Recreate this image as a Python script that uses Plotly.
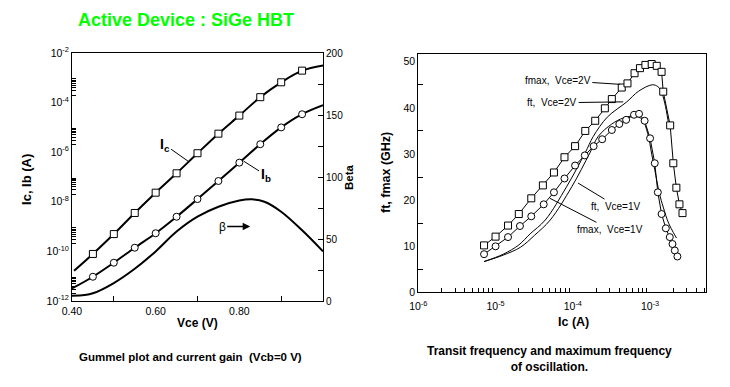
import numpy as np
import plotly.graph_objects as go

# ---------------- Left panel: Gummel plot ----------------
ic_vce = [0.405, 0.45, 0.50, 0.55, 0.60, 0.65, 0.70, 0.75, 0.80, 0.85, 0.90, 0.95, 1.00]
ic_val = [1.66e-11, 7.9e-11, 5.0e-10, 3.55e-9, 2.34e-8, 1.41e-7, 9.1e-7, 5.6e-6,
          3.0e-5, 1.66e-4, 6.6e-4, 1.95e-3, 3.16e-3]
ib_vce = [0.40, 0.45, 0.50, 0.55, 0.60, 0.65, 0.70, 0.75, 0.80, 0.85, 0.90, 0.95, 1.00]
ib_val = [3.2e-12, 9.5e-12, 3.5e-11, 1.41e-10, 5.4e-10, 2.5e-9, 1.29e-8, 6.9e-8,
          3.8e-7, 2.1e-6, 1.0e-5, 3.4e-5, 7.8e-5]
beta_vce = [0.40, 0.43, 0.45, 0.50, 0.55, 0.60, 0.65, 0.70, 0.75, 0.80, 0.83, 0.86, 0.90, 0.95, 1.00]
beta_val = [4.3, 4.8, 6.2, 14.5, 26, 40, 56, 68, 76, 81, 82, 80, 72, 57, 40]

# ---------------- Right panel: ft / fmax ----------------
fmax2_ic = [7.1e-6, 1.0e-5, 1.45e-5, 2.0e-5, 2.9e-5, 4.1e-5, 5.7e-5, 7.8e-5, 1.07e-4,
            1.45e-4, 1.95e-4, 2.6e-4, 3.2e-4, 4.3e-4, 5.1e-4, 6.3e-4, 7.4e-4, 8.7e-4,
            1.05e-3, 1.22e-3, 1.41e-3, 1.48e-3, 1.82e-3, 2.0e-3, 2.19e-3, 2.4e-3, 2.63e-3]
fmax2_f = [10.2, 12.1, 14.5, 17.0, 20.4, 23.2, 26.0, 29.3, 31.7, 35.0, 37.2, 39.9, 41.9,
           44.4, 45.3, 47.5, 48.6, 49.3, 49.5, 49.1, 47.8, 43.5, 36.2, 28.0, 22.7, 19.1, 17.2]
fmax1_ic = [7.1e-6, 1.0e-5, 1.45e-5, 2.07e-5, 2.9e-5, 4.2e-5, 5.7e-5, 7.8e-5, 1.07e-4,
            1.43e-4, 1.86e-4, 2.4e-4, 3.2e-4, 4.0e-4, 4.9e-4, 6.2e-4, 7.2e-4, 8.5e-4,
            1.0e-3, 1.15e-3, 1.26e-3, 1.41e-3, 1.6e-3, 1.8e-3, 1.95e-3, 2.09e-3, 2.26e-3]
fmax1_f = [8.3, 10.0, 12.0, 14.4, 16.5, 19.1, 21.7, 24.7, 27.5, 29.7, 31.7, 33.2, 35.2,
           36.5, 37.4, 38.5, 38.7, 37.2, 33.4, 28.0, 21.7, 17.0, 13.9, 12.0, 10.5, 9.1, 7.8]
ft2_ic = [7.1e-6, 1.26e-5, 2.0e-5, 2.8e-5, 4.4e-5, 8.3e-5, 1.44e-4, 1.84e-4, 2.8e-4,
          5.0e-4, 7.1e-4, 1.07e-3, 1.26e-3, 1.38e-3, 1.55e-3, 1.72e-3]
ft2_f = [6.7, 8.3, 10.3, 12.7, 15.7, 22.9, 30.2, 33.8, 38.0, 41.3, 43.6, 45.0, 44.6,
         43.8, 41.0, 37.0]
ft1_ic = [7.1e-6, 1.26e-5, 2.1e-5, 3.2e-5, 5.1e-5, 9.7e-5, 1.66e-4, 2.13e-4, 3.2e-4,
          4.5e-4, 6.3e-4, 7.9e-4, 9.3e-4, 1.05e-3, 1.15e-3, 1.32e-3, 1.48e-3, 1.74e-3,
          2.0e-3, 2.2e-3]
ft1_f = [6.7, 8.1, 9.8, 12.4, 15.7, 22.9, 30.2, 33.8, 36.5, 37.8, 38.2, 37.5, 34.5,
         30.0, 26.6, 21.5, 18.5, 15.0, 13.0, 11.8]

# tick labels
vce_ticks = [0.4, 0.6, 0.8]
vce_ticktext = ["0.40", "0.60", "0.80"]
vce_minor = [0.5, 0.7, 0.9]
gummel_exps = [-12, -10, -8, -6, -4, -2]
gummel_minor_decades = [-12, -10, -8, -6, -4]
ic_exps = [-6, -5, -4, -3]
f_minor = [5, 15, 25, 35, 45]

FONT = "Liberation Sans, Arial, sans-serif"
BLACK = "black"

fig = go.Figure()

# Left traces
fig.add_trace(go.Scatter(x=ic_vce, y=ic_val, mode="lines", line=dict(color=BLACK, width=2, shape="spline"),
                         xaxis="x", yaxis="y", hoverinfo="skip"))
fig.add_trace(go.Scatter(x=ic_vce[1:-1], y=ic_val[1:-1], mode="markers",
                         marker=dict(symbol="square", size=7, color="white", line=dict(color=BLACK, width=1)),
                         xaxis="x", yaxis="y"))
fig.add_trace(go.Scatter(x=ib_vce, y=ib_val, mode="lines", line=dict(color=BLACK, width=2, shape="spline"),
                         xaxis="x", yaxis="y", hoverinfo="skip"))
fig.add_trace(go.Scatter(x=ib_vce[1:-1], y=ib_val[1:-1], mode="markers",
                         marker=dict(symbol="circle", size=7, color="white", line=dict(color=BLACK, width=1)),
                         xaxis="x", yaxis="y"))
fig.add_trace(go.Scatter(x=beta_vce, y=beta_val, mode="lines", line=dict(color=BLACK, width=2, shape="spline"),
                         xaxis="x", yaxis="y2"))

# Right traces
fig.add_trace(go.Scatter(x=ft2_ic, y=ft2_f, mode="lines", line=dict(color=BLACK, width=1, shape="spline"),
                         xaxis="x2", yaxis="y3"))
fig.add_trace(go.Scatter(x=ft1_ic, y=ft1_f, mode="lines", line=dict(color=BLACK, width=1, shape="spline"),
                         xaxis="x2", yaxis="y3"))
fig.add_trace(go.Scatter(x=fmax2_ic, y=fmax2_f, mode="lines+markers", line=dict(color=BLACK, width=1),
                         marker=dict(symbol="square", size=7, color="white", line=dict(color=BLACK, width=1)),
                         xaxis="x2", yaxis="y3"))
fig.add_trace(go.Scatter(x=fmax1_ic, y=fmax1_f, mode="lines+markers", line=dict(color=BLACK, width=1),
                         marker=dict(symbol="circle", size=7, color="white", line=dict(color=BLACK, width=1)),
                         xaxis="x2", yaxis="y3"))

tickfont = dict(family=FONT, size=10.5, color=BLACK)
axis_common = dict(showline=True, linecolor=BLACK, linewidth=1, showgrid=False, zeroline=False,
                   tickfont=tickfont, automargin=False)

gummel_minor = [k * 10.0 ** d for d in gummel_minor_decades for k in range(2, 10)]
ic_minor = [k * 10.0 ** d for d in ic_exps for k in range(2, 10) if k * 10.0 ** d < 5.2e-3]

fig.update_layout(
    width=730, height=387, margin=dict(l=0, r=0, t=0, b=0, autoexpand=False),
    paper_bgcolor="white", plot_bgcolor="white", showlegend=False,
    font=dict(family=FONT, color=BLACK),
    xaxis=dict(domain=[0.0986, 0.4425], anchor="y", range=[0.4, 1.0], tickvals=vce_ticks,
               ticktext=vce_ticktext, ticks="", mirror=True,
               minor=dict(ticks="inside", tickvals=vce_minor, ticklen=5, tickcolor=BLACK), **axis_common),
    yaxis=dict(domain=[0.2222, 0.863], anchor="x", type="log", range=[-12, -2],
               tickvals=[10.0 ** e for e in gummel_exps],
               ticktext=[f"10<sup>{e}</sup>" for e in gummel_exps], ticks="",
               minor=dict(ticks="inside", tickvals=gummel_minor, ticklen=4, tickcolor=BLACK), **axis_common),
    yaxis2=dict(overlaying="y", anchor="x", side="right", range=[0, 200], dtick=50, ticks="inside",
                ticklen=5, tickcolor=BLACK,
                minor=dict(ticks="inside", dtick=25, ticklen=5, tickcolor=BLACK),
                **{**axis_common, "tickfont": dict(family=FONT, size=10, color=BLACK)}),
    xaxis2=dict(domain=[0.573, 0.9667], anchor="y3", type="log", range=[-6, -2.28],
                tickvals=[10.0 ** e for e in ic_exps], ticklabelstandoff=4,
                ticktext=[f"10<sup>{e}</sup>" for e in ic_exps], ticks="", mirror=True,
                minor=dict(ticks="inside", tickvals=ic_minor, ticklen=4, tickcolor=BLACK), **axis_common),
    yaxis3=dict(domain=[0.2442, 0.8597], anchor="x2", range=[0, 51.6], dtick=10, ticks="", mirror=True,
                minor=dict(ticks="inside", tickvals=f_minor, ticklen=5, tickcolor=BLACK), **axis_common),
)

ann = []
def txt(x, y, text, size, bold=False, angle=0, color=BLACK):
    ann.append(dict(x=x, y=y, xref="paper", yref="paper", text=f"<b>{text}</b>" if bold else text,
                    showarrow=False, textangle=angle, xanchor="center", yanchor="middle",
                    font=dict(family=FONT, size=size, color=color)))

txt(0.2548, 0.948, "Active Device : SiGe HBT", 18, bold=True, color="#00ff00")
txt(0.27, 0.1654, "Vce (V)", 12, bold=True)
txt(0.785, 0.1687, "Ic (A)", 12.5, bold=True)
txt(0.037, 0.535, "Ic, Ib (A)", 13, bold=True, angle=-90)
txt(0.478, 0.5426, "Beta", 11.5, bold=True, angle=-90)
txt(0.5288, 0.553, "ft, fmax (GHz)", 12.5, bold=True, angle=-90)
txt(0.2616, 0.0783, "Gummel plot and current gain  (Vcb=0 V)", 11.5, bold=True)
txt(0.7534, 0.0724, "Transit frequency and maximum frequency<br>of oscillation.", 12, bold=True)

def lead(x, y, ax, ay, text, xref, yref, size=10, head=0, width=1):
    ann.append(dict(x=x, y=y, xref=xref, yref=yref, ax=ax, ay=ay, text=text, showarrow=True,
                    arrowhead=head, arrowwidth=width, arrowcolor=BLACK, arrowsize=1,
                    font=dict(family=FONT, size=size, color=BLACK)))

lead(0.6786, np.log10(4.2e-7), -24, -17, "<b>I<sub>c</sub></b>", "x", "y", size=14)
lead(0.81, np.log10(4.4e-7), 22, 14, "<b>I<sub>b</sub></b>", "x", "y", size=14)
lead(0.826, 60, -28, 0, "β", "x", "y2", size=12, head=2, width=1.5)

lead(np.log10(4.06e-4), 45.1, -62, -4, "fmax,  Vce=2V", "x2", "y3")
lead(np.log10(4.49e-4), 41.3, -71, 1, "ft,  Vce=2V", "x2", "y3")
lead(np.log10(1.17e-4), 23.7, 38, 23, "ft,  Vce=1V", "x2", "y3")
lead(np.log10(5.06e-5), 20.4, 60, 31, "fmax,  Vce=1V", "x2", "y3")

fig.update_layout(annotations=ann)
fig.write_html("out.html", config={"displayModeBar": False},
               post_script="document.body.style.margin='0px';document.body.style.padding='0px';")
